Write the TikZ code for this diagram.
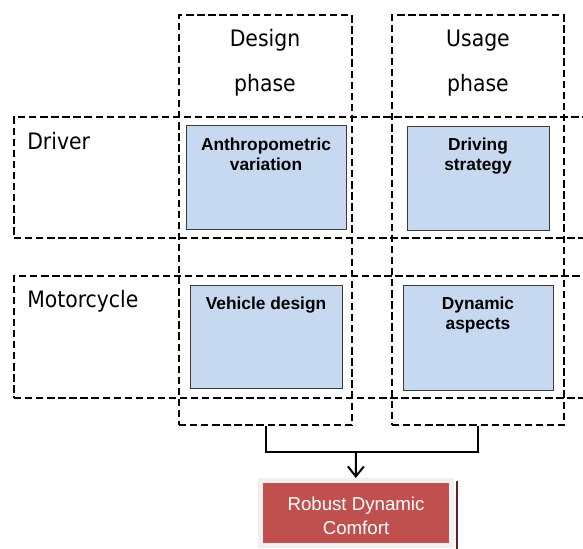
\documentclass[tikz,border=0pt]{standalone}
\usepackage{fontspec}
\setmainfont{Liberation Sans}
\newfontfamily\phasefont{DejaVu Sans Condensed}
\usetikzlibrary{fit,arrows.meta}

\definecolor{taskblue}{HTML}{C6D9F1}
\definecolor{taskedge}{HTML}{3A3A3A}
\definecolor{resultred}{HTML}{C0504D}
\definecolor{resultedge}{HTML}{6B1F1D}

\tikzset{
  zone/.style={draw, dashed, line width=1.8pt, dash pattern=on 5.5pt off 2.8pt, inner sep=0pt},
  taskbox/.style={draw=taskedge, fill=taskblue, line width=0.75pt, inner sep=0pt},
  tasktext/.style={anchor=north, inner sep=0pt, align=center,
    font=\fontsize{13}{15}\selectfont\bfseries},
  biglabel/.style={inner sep=0pt, font=\phasefont\fontsize{17}{20}\selectfont},
  link/.style={line width=1.5pt}
}

\begin{document}
\begin{tikzpicture}[x=0.75pt, y=-0.75pt]
  \clip (0,0) rectangle (583,549);

  % phases (columns) and actors (rows)
  \node[zone, fit={(179,15) (352,425)}](Design) {};
  \node[zone, fit={(392,15) (564,425)}](Usage) {};
  \node[zone, fit={(14,117) (590,238)}](Driver) {};
  \node[zone, fit={(14,276) (590,398)}](Motorcycle) {};

  \node[biglabel, anchor=base](DesignWord) at (265,47) {Design};
  \node[biglabel, anchor=base](DesignPhase) at (265,92) {phase};
  \node[biglabel, anchor=base](UsageWord) at (478,47) {Usage};
  \node[biglabel, anchor=base](UsagePhase) at (478,92) {phase};
  \node[biglabel, anchor=base west](DriverLabel) at (27,150) {Driver};
  \node[biglabel, anchor=base west](MotorcycleLabel) at (27,308) {Motorcycle};

  % factors
  \node[taskbox, fit={(186,126) (346,230)}](Anthro) {};
  \node[taskbox, fit={(407,127) (549,231)}](Strategy) {};
  \node[taskbox, fit={(190,286) (342,389)}](Vehicle) {};
  \node[taskbox, fit={(403,286) (553,391)}](Dynamics) {};

  \node[tasktext](AnthroText) at (266,138) {Anthropometric\\variation};
  \node[tasktext](StrategyText) at (478,138) {Driving\\strategy};
  \node[tasktext](VehicleText) at (266,297) {Vehicle design};
  \node[tasktext](DynamicsText) at (478,297) {Dynamic\\aspects};

  % outcome
  \node[draw=black!6, line width=3.75pt, fill=resultred, inner sep=0pt,
    fit={(260.5,480.5) (451,546)}](Robust) {};
  \draw[resultedge, line width=1.5pt] ([xshift=2.6pt, yshift=-1.9pt]Robust.north east)
    -- ([xshift=2.6pt, yshift=-1.5pt]Robust.south east);
  \node[anchor=north, inner sep=0pt, align=center, text=white,
    font=\fontsize{14}{18}\selectfont](RobustText) at (356,497) {Robust Dynamic\\Comfort};

  \coordinate (Join) at (356,452);
  \draw[link] (Design.south) |- (Join) -| (Usage.south);
  \draw[link, -{Straight Barb[length=7.5pt, width=12pt, line width=1.5pt]}] (Join) -- (Robust.north);
\end{tikzpicture}
\end{document}
